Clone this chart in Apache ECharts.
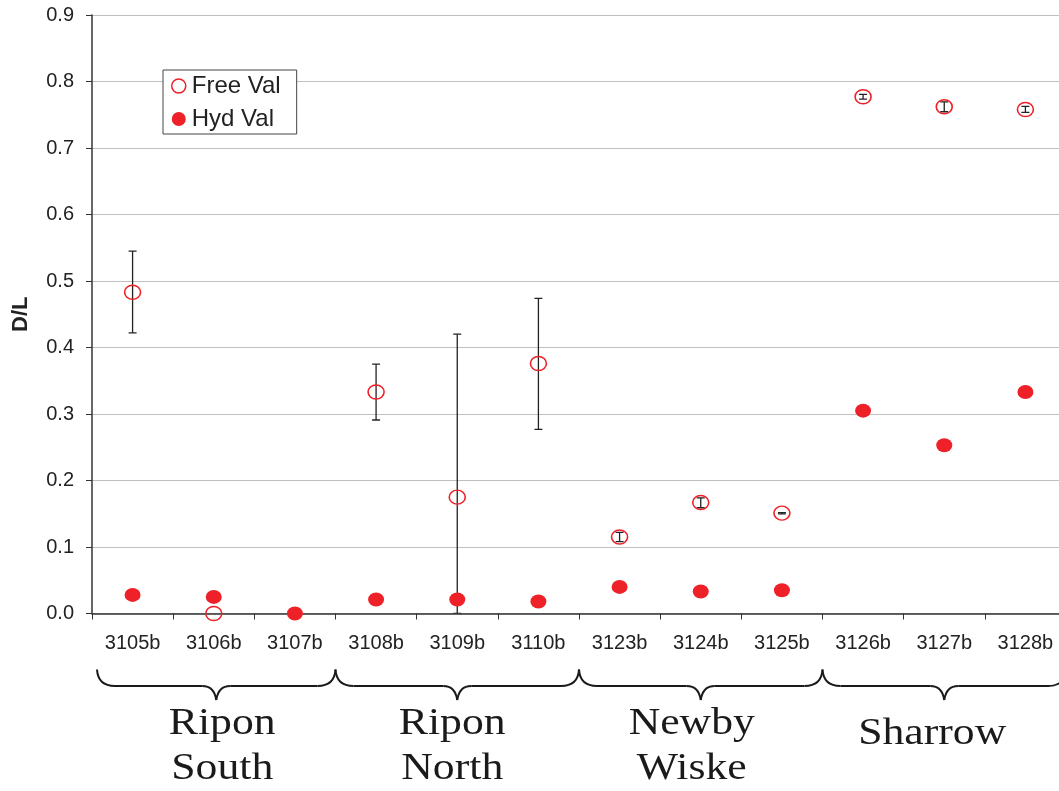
<!DOCTYPE html>
<html>
<head>
<meta charset="utf-8">
<script src="https://cdn.jsdelivr.net/npm/echarts@6/dist/echarts.min.js"></script>
<style>
  html, body { margin: 0; padding: 0; background: #fff; }
  #chart { width: 1059px; height: 791px; }
</style>
</head>
<body>
<div id="chart"></div>
<script>
const categories = ["3105b", "3106b", "3107b", "3108b", "3109b", "3110b",
  "3123b", "3124b", "3125b", "3126b", "3127b", "3128b"];

// Free Val (open circles) with error bars
const freeVal = [0.483, 0.0, null, 0.333, 0.175, 0.376, 0.115, 0.167, 0.151, 0.777, 0.762, 0.758];
const freeLow = [0.422, null, null, 0.291, 0.0, 0.277, 0.108, 0.159, 0.1498, 0.7735, 0.7545, 0.7535];
const freeHigh = [0.545, null, null, 0.375, 0.420, 0.474, 0.122, 0.174, 0.1518, 0.7805, 0.7695, 0.7625];

// Hyd Val (filled circles)
const hydVal = [0.028, 0.025, 0.0, 0.021, 0.021, 0.018, 0.040, 0.033, 0.035, 0.305, 0.253, 0.333];

// site groups under the axis
const groupNames = ["Ripon\nSouth", "Ripon\nNorth", "Newby\nWiske", "Sharrow"];
const groupStart = [0, 3, 6, 9];
const groupEnd = [2, 5, 8, 11];

const RED = "#ee2128";
const INK = "#222";

const chart = echarts.init(document.getElementById("chart"), null, { renderer: "canvas" });

const errData = [];
categories.forEach((c, i) => {
  if (freeLow[i] != null && freeHigh[i] != null) errData.push([i, freeLow[i], freeHigh[i]]);
});

chart.setOption({
  animation: false,
  backgroundColor: "#fff",
  textStyle: { fontFamily: "Liberation Sans" },
  grid: { left: 92, width: 974, top: 15, bottom: 177.5, containLabel: false, outerBoundsMode: "none" },
  legend: {
    orient: "vertical",
    left: 163,
    top: 70,
    padding: [4, 16, 3, 8],
    itemGap: 9,
    itemWidth: 16,
    itemHeight: 14,
    backgroundColor: "#fff",
    borderColor: "#444",
    borderWidth: 1,
    borderRadius: 0,
    textStyle: { fontSize: 24, lineHeight: 24, color: INK, fontFamily: "Liberation Sans" },
    data: [
      { name: "Free Val", icon: "circle", itemStyle: { color: "transparent", borderColor: RED, borderWidth: 1.5 } },
      { name: "Hyd Val", icon: "circle", itemStyle: { color: RED } }
    ]
  },
  xAxis: {
    type: "category",
    data: categories,
    boundaryGap: true,
    axisLine: { lineStyle: { color: "#333", width: 1.5 } },
    axisTick: { show: true, interval: 0, alignWithLabel: false, length: 6, lineStyle: { color: "#333" } },
    axisLabel: { interval: 0, fontSize: 20, color: INK, margin: 20 },
    splitLine: { show: false }
  },
  yAxis: {
    type: "value",
    min: 0,
    max: 0.9,
    interval: 0.1,
    name: "D/L",
    nameLocation: "middle",
    nameGap: 60,
    nameRotate: 90,
    nameTextStyle: { fontSize: 22, fontWeight: "bold", color: INK },
    axisLine: { show: true, lineStyle: { color: "#333", width: 1.5 } },
    axisTick: { show: true, length: 6, lineStyle: { color: "#333" } },
    axisLabel: { fontSize: 20, color: INK, margin: 18, formatter: v => v.toFixed(1) },
    splitLine: { lineStyle: { color: "#c0c0c0", width: 1 } }
  },
  series: [
    {
      name: "err",
      type: "custom",
      z: 1,
      clip: true,
      data: errData,
      renderItem: (params, api) => {
        const x = api.value(0);
        const lo = api.coord([x, api.value(1)]);
        const hi = api.coord([x, api.value(2)]);
        const w = 4;
        const style = { stroke: "#222", lineWidth: 1.3 };
        return {
          type: "group",
          children: [
            { type: "line", shape: { x1: lo[0], y1: lo[1], x2: hi[0], y2: hi[1] }, style },
            { type: "line", shape: { x1: hi[0] - w, y1: hi[1], x2: hi[0] + w, y2: hi[1] }, style },
            { type: "line", shape: { x1: lo[0] - w, y1: lo[1], x2: lo[0] + w, y2: lo[1] }, style }
          ]
        };
      }
    },
    {
      name: "Free Val",
      type: "scatter",
      z: 3,
      symbol: "circle",
      symbolSize: [16, 14],
      itemStyle: { color: "transparent", borderColor: RED, borderWidth: 1.5, opacity: 1 },
      data: freeVal
    },
    {
      name: "Hyd Val",
      type: "scatter",
      z: 4,
      symbol: "circle",
      symbolSize: [16, 14],
      itemStyle: { color: RED, opacity: 1 },
      data: hydVal
    }
  ]
});

// braces and site names under the category axis
function buildGroups() {
  const c0 = chart.convertToPixel({ xAxisIndex: 0 }, 0);
  const c1 = chart.convertToPixel({ xAxisIndex: 0 }, 1);
  const band = c1 - c0;
  const base = chart.convertToPixel({ yAxisIndex: 0 }, 0);
  const yTop = base + 56, yMid = base + 72.5, yTip = base + 86.5;
  const style = { stroke: "#1a1a1a", lineWidth: 2, fill: null };
  const textShift = [6, -5, -9, -12];
  const out = [];
  groupNames.forEach((name, g) => {
    const x0 = chart.convertToPixel({ xAxisIndex: 0 }, groupStart[g]) - band / 2 + (g === 0 ? 5 : 0);
    const x1 = chart.convertToPixel({ xAxisIndex: 0 }, groupEnd[g]) + band / 2;
    const xc = (x0 + x1) / 2;
    const r = 18, s = 14;
    out.push(
      { type: "bezierCurve", silent: true, shape: { x1: x0, y1: yTop, x2: x0 + r, y2: yMid, cpx1: x0 + 1, cpy1: yMid }, style },
      { type: "line", silent: true, shape: { x1: x0 + r, y1: yMid, x2: xc - s, y2: yMid }, style },
      { type: "bezierCurve", silent: true, shape: { x1: xc - s, y1: yMid, x2: xc, y2: yTip, cpx1: xc - 2, cpy1: yMid }, style },
      { type: "bezierCurve", silent: true, shape: { x1: xc + s, y1: yMid, x2: xc, y2: yTip, cpx1: xc + 2, cpy1: yMid }, style },
      { type: "line", silent: true, shape: { x1: xc + s, y1: yMid, x2: x1 - r, y2: yMid }, style },
      { type: "bezierCurve", silent: true, shape: { x1: x1 - r, y1: yMid, x2: x1, y2: yTop, cpx1: x1 - 1, cpy1: yMid }, style }
    );
    const oneLine = name.indexOf("\n") < 0;
    out.push({
      type: "text",
      silent: true,
      x: xc + textShift[g],
      y: oneLine ? base + 98 : base + 88,
      scaleX: 1.15,
      style: {
        text: name,
        fontFamily: "Liberation Serif",
        fontSize: 38,
        lineHeight: 45,
        fill: "#1a1a1a",
        align: "center",
        verticalAlign: "top"
      }
    });
  });
  return out;
}

chart.setOption({ graphic: buildGroups() });
</script>
</body>
</html>
